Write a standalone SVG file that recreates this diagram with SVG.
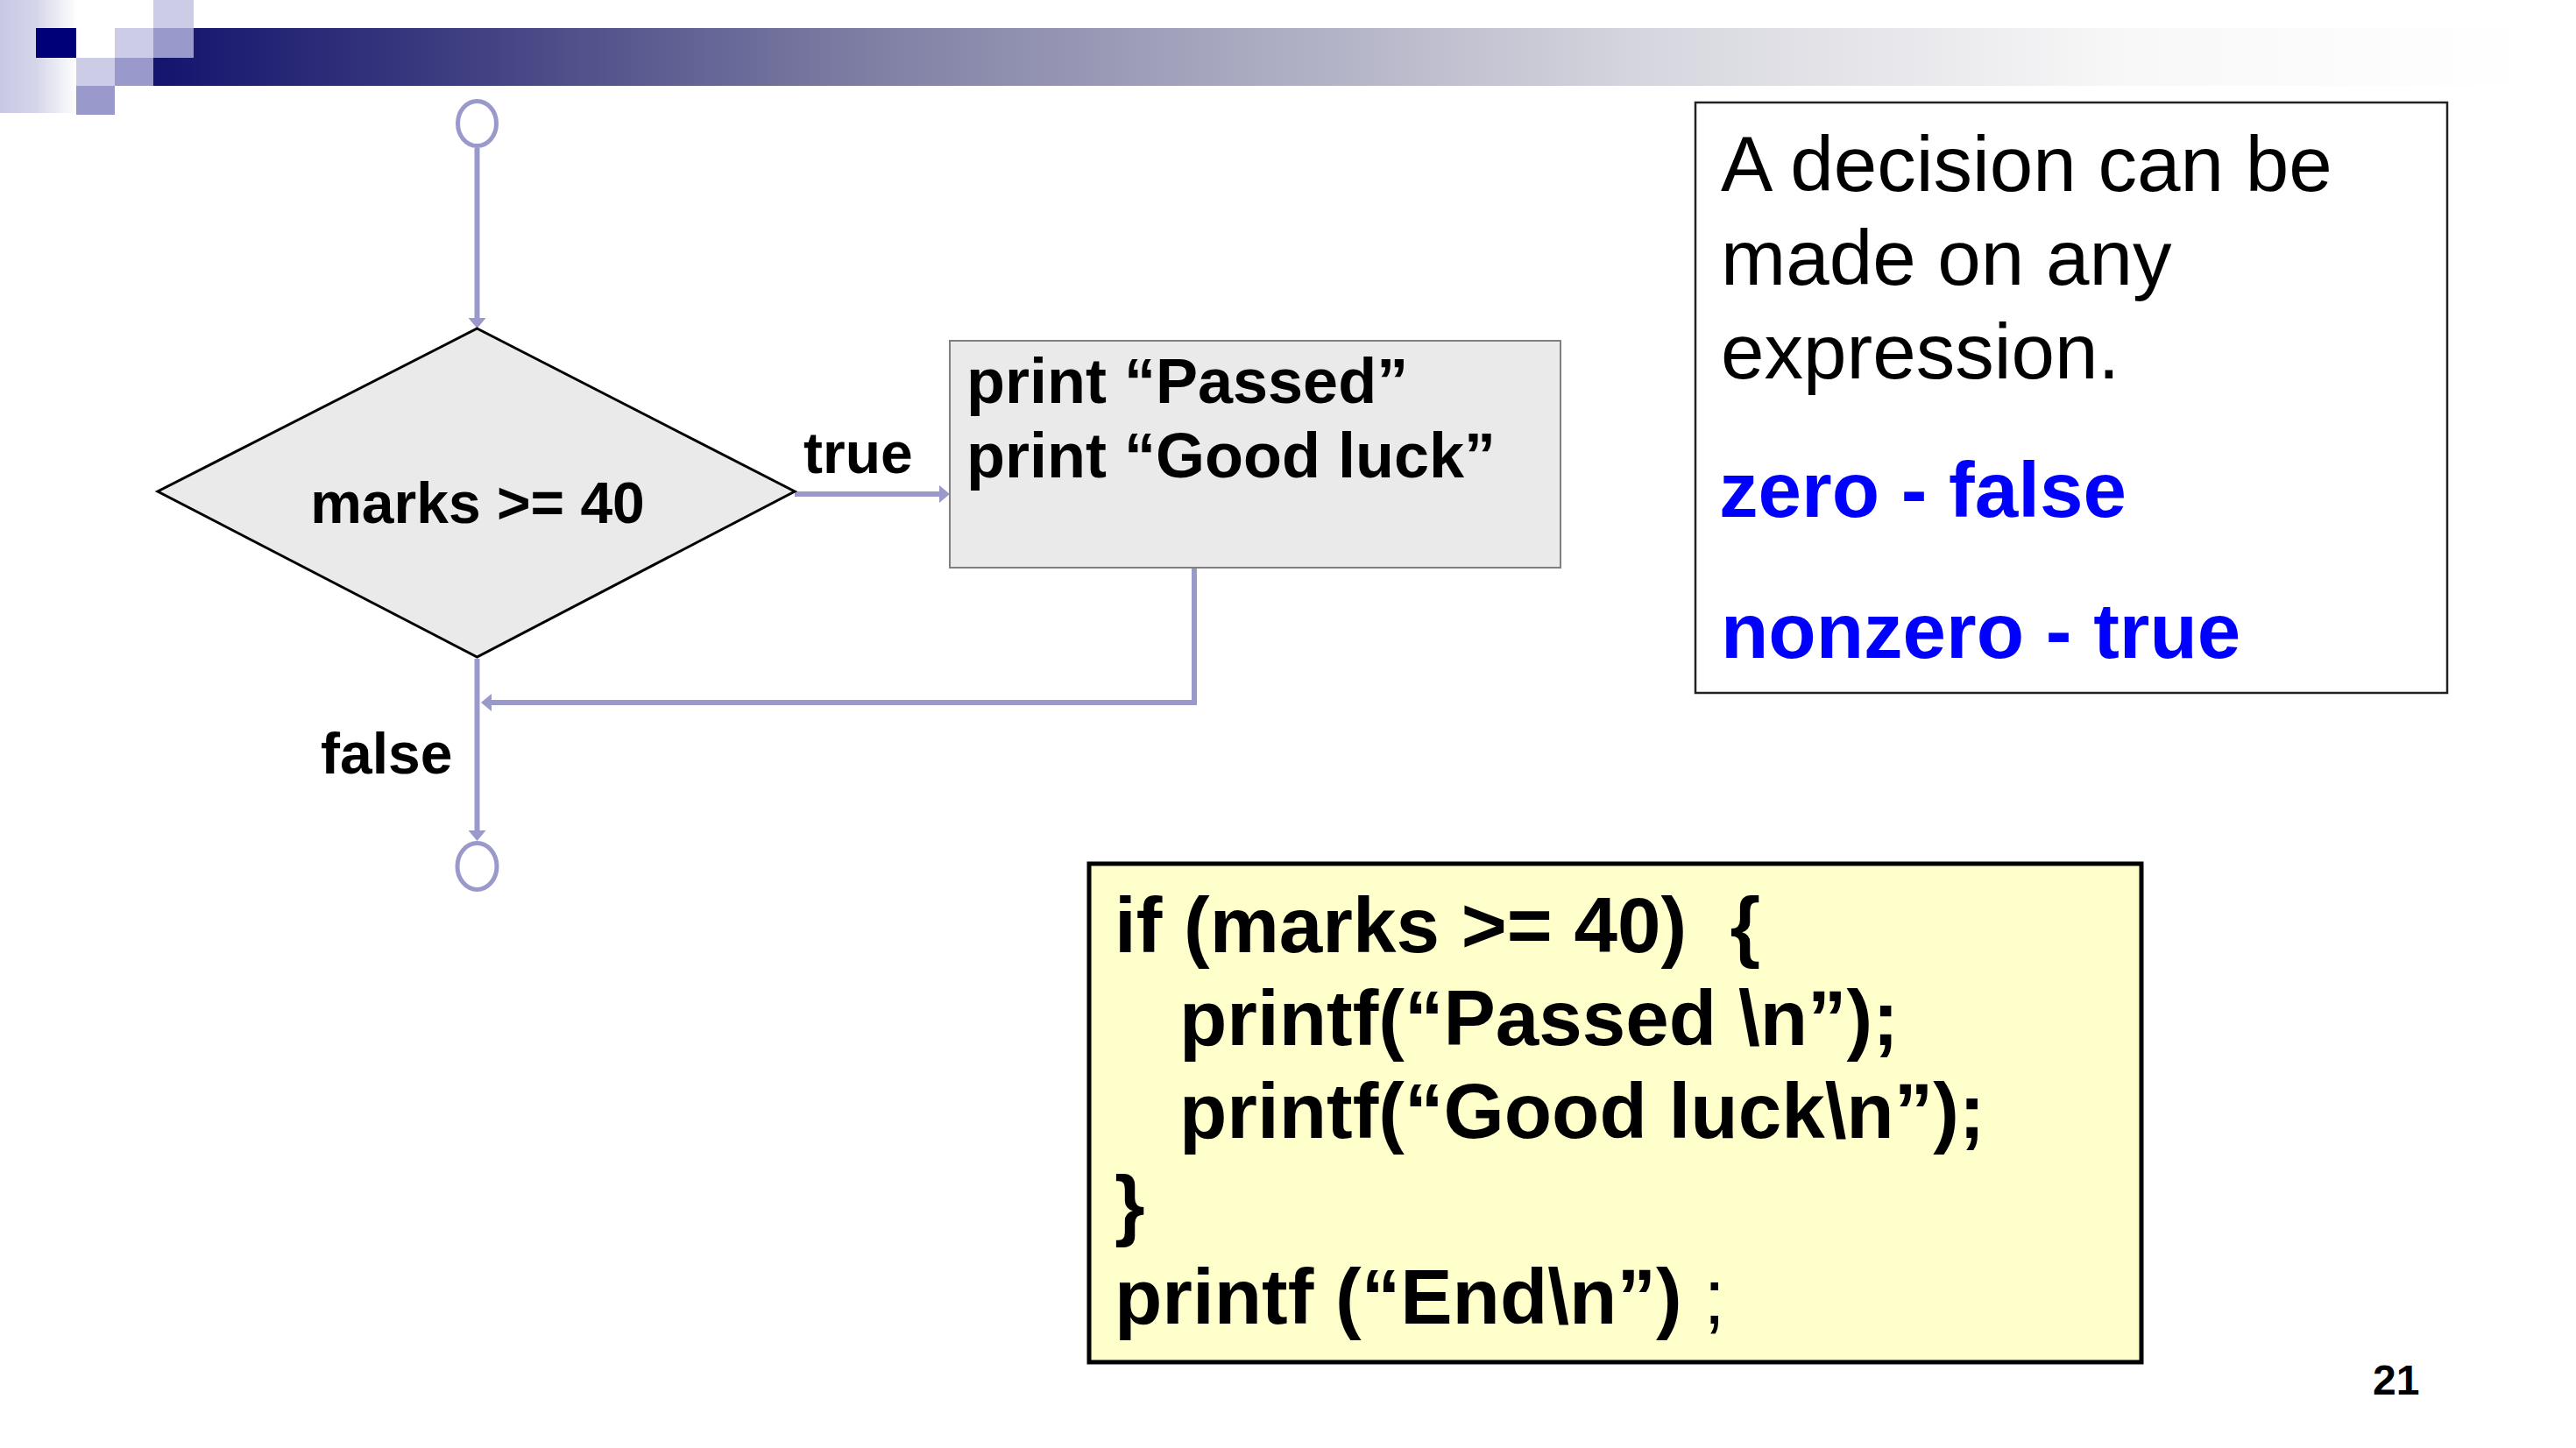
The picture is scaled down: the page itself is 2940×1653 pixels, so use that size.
<svg xmlns="http://www.w3.org/2000/svg" width="2940" height="1653" viewBox="0 0 2940 1653">
  <defs>
    <linearGradient id="barFade" gradientUnits="userSpaceOnUse" x1="175" y1="0" x2="2900" y2="0">
      <stop offset="0" stop-color="#14146e"/>
      <stop offset="0.123" stop-color="#3c3c80"/>
      <stop offset="0.303" stop-color="#8080a5"/>
      <stop offset="0.62" stop-color="#d5d5de"/>
      <stop offset="0.83" stop-color="#f8f8f8"/>
      <stop offset="1" stop-color="#ffffff"/>
    </linearGradient>
    <linearGradient id="cornerFade" gradientUnits="userSpaceOnUse" x1="0" y1="0" x2="88" y2="0">
      <stop offset="0" stop-color="#c8c8e4"/>
      <stop offset="0.45" stop-color="#d4d4ea"/>
      <stop offset="1" stop-color="#ffffff"/>
    </linearGradient>
    <marker id="arrow" viewBox="0 0 12 20" refX="4" refY="10" markerWidth="12" markerHeight="20" markerUnits="userSpaceOnUse" orient="auto">
      <path d="M0,0 L12,10 L0,20 z" fill="#9999cc"/>
    </marker>
  </defs>
  <style>
    text { font-family: "Liberation Sans", Arial, sans-serif; white-space: pre; fill: #000000; }
    .b { font-weight: bold; }
    .lbl { font-size: 66px; font-weight: bold; }
    .proc { font-size: 72px; font-weight: bold; }
    .note { font-size: 89px; }
    .blue { fill: #0000ff; font-weight: bold; }
    .code { font-size: 89px; font-weight: bold; }
    .conn { fill: none; stroke: #9999cc; stroke-width: 6; }
    .term { fill: #ffffff; stroke: #9999cc; stroke-width: 5; }
    .lite { fill: #ccccE6; }
    .mid { fill: #9999cc; }
  </style>

  <rect x="0" y="0" width="2940" height="1653" fill="#ffffff"/>

  <!-- title banner with chequered corner -->
  <g id="banner">
    <rect x="0" y="0" width="88" height="129" fill="url(#cornerFade)"/>
    <rect x="175" y="32" width="2765" height="66" fill="url(#barFade)"/>
    <rect class="lite" x="175" y="0" width="46" height="32"/>
    <rect x="41" y="32" width="46" height="34" fill="#000078"/>
    <rect class="lite" x="131" y="32" width="44" height="34"/>
    <rect class="mid" x="175" y="32" width="46" height="34"/>
    <rect class="lite" x="87" y="66" width="44" height="32"/>
    <rect class="mid" x="131" y="66" width="44" height="32"/>
    <rect class="mid" x="87" y="98" width="44" height="33"/>
  </g>

  <!-- flow connectors -->
  <g id="connectors">
    <path class="conn" d="M544.5,169 V367" marker-end="url(#arrow)"/>
    <path class="conn" d="M907,564 H1076" marker-end="url(#arrow)"/>
    <path class="conn" d="M1363,648 V802 H557" marker-end="url(#arrow)"/>
    <path class="conn" d="M544.5,752 V952" marker-end="url(#arrow)"/>
    <text class="lbl" x="917" y="540">true</text>
    <text class="lbl" x="366" y="883">false</text>
  </g>

  <g id="start">
    <ellipse class="term" cx="544.5" cy="141" rx="22" ry="25.5"/>
  </g>

  <g id="decision">
    <polygon points="544.5,375 907,561 544.5,750 180,561" fill="#eaeaea" stroke="#000000" stroke-width="3"/>
    <text class="lbl" x="545" y="597" text-anchor="middle">marks &gt;= 40</text>
  </g>

  <g id="action">
    <rect x="1084" y="389" width="697" height="259" fill="#eaeaea" stroke="#808080" stroke-width="2"/>
    <text class="proc" x="1103" y="460">print “Passed”</text>
    <text class="proc" x="1103" y="545">print “Good luck”</text>
  </g>

  <g id="end">
    <ellipse class="term" cx="544.5" cy="989" rx="22.5" ry="26.5"/>
  </g>

  <!-- explanatory note -->
  <g id="note">
    <rect x="1935" y="117" width="858" height="674" fill="#ffffff" stroke="#222222" stroke-width="2.5"/>
    <text class="note" x="1964" y="218">A decision can be</text>
    <text class="note" x="1964" y="325">made on any</text>
    <text class="note" x="1964" y="432">expression.</text>
    <text class="note blue" x="1962" y="590">zero - false</text>
    <text class="note blue" x="1964" y="751">nonzero - true</text>
  </g>

  <!-- equivalent C code -->
  <g id="code">
    <rect x="1243" y="986" width="1201" height="569" fill="#ffffcc" stroke="#000000" stroke-width="5"/>
    <text class="code" x="1272" y="1087">if (marks &gt;= 40)  {</text>
    <text class="code" x="1346" y="1193">printf(“Passed \n”);</text>
    <text class="code" x="1346" y="1299">printf(“Good luck\n”);</text>
    <text class="code" x="1272" y="1405">}</text>
    <text class="code" x="1272" y="1511">printf (“End\n”)<tspan font-weight="normal"> ;</tspan></text>
  </g>

  <text class="b" x="2708" y="1592" font-size="48">21</text>
</svg>
